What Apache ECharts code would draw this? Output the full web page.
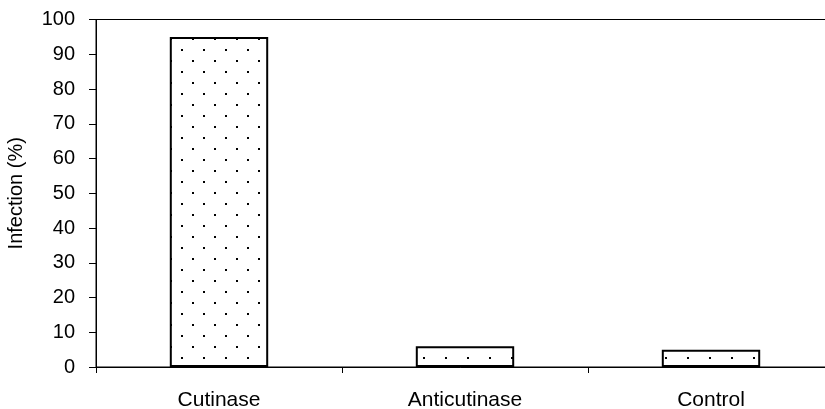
<!DOCTYPE html>
<html>
<head>
<meta charset="utf-8">
<script src="https://cdn.jsdelivr.net/npm/echarts@6/dist/echarts.min.js"></script>
<style>
html,body{margin:0;padding:0;background:#fff;}
#chart{width:825px;height:409px;}
</style>
</head>
<body>
<div id="chart"></div>
<script>
const categories = ["Cutinase", "Anticutinase", "Control"];
const infection = [95, 6, 5];
const yTicks = [0, 10, 20, 30, 40, 50, 60, 70, 80, 90, 100];

function makePattern() {
  const c = document.createElement('canvas');
  c.width = 22; c.height = 22;
  const ctx = c.getContext('2d');
  ctx.fillStyle = '#fff';
  ctx.fillRect(0, 0, 22, 22);
  ctx.fillStyle = '#000';
  ctx.fillRect(5, 5, 2, 2);
  ctx.fillRect(16, 16, 2, 2);
  return c;
}

const chart = echarts.init(document.getElementById('chart'), null, {renderer: 'canvas'});
const font = '"Liberation Sans", Arial, sans-serif';
chart.setOption({
  animation: false,
  backgroundColor: '#fff',
  grid: {
    left: 96, top: 19.5, width: 738, height: 347.5,
    outerBoundsMode: 'none',
    containLabel: false,
    show: true, borderColor: '#000', borderWidth: 1, backgroundColor: 'transparent'
  },
  xAxis: {
    type: 'category',
    data: categories,
    axisLine: {lineStyle: {color: '#000', width: 1}},
    axisTick: {show: true, length: 6, lineStyle: {color: '#000'}},
    axisLabel: {color: '#000', fontFamily: font, fontSize: 21, margin: 23},
    splitLine: {show: false}
  },
  yAxis: {
    type: 'value',
    min: yTicks[0], max: yTicks[yTicks.length - 1], interval: 10,
    name: 'Infection (%)',
    nameLocation: 'middle',
    nameGap: 70,
    nameTextStyle: {color: '#000', fontFamily: font, fontSize: 20},
    axisLine: {show: true, lineStyle: {color: '#000', width: 1}},
    axisTick: {show: true, length: 7, lineStyle: {color: '#000'}},
    axisLabel: {color: '#000', fontFamily: font, fontSize: 20, margin: 21},
    splitLine: {show: false}
  },
  series: [{
    type: 'bar',
    data: infection,
    barWidth: '40%',
    itemStyle: {
      color: {image: makePattern(), repeat: 'repeat'},
      borderColor: '#000',
      borderWidth: 2
    }
  }]
});
</script>
</body>
</html>
